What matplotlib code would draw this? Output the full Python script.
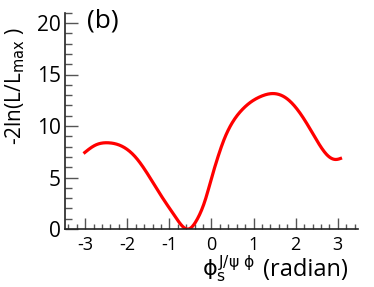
import matplotlib
matplotlib.use("Agg")
import matplotlib.pyplot as plt
from matplotlib.ticker import MultipleLocator
import numpy as np

# data
phi = [-3.04, -2.76, -2.45, -2.13, -1.81, -1.50, -1.18, -0.86, -0.54, -0.35,
       -0.15, 0.01, 0.13, 0.29, 0.49, 0.72, 0.96, 1.16, 1.46, 1.79, 2.11,
       2.43, 2.75, 2.94, 3.10]
nll = [7.33, 8.14, 8.37, 8.04, 7.0, 5.23, 3.13, 1.19, 0.0, 0.87,
       2.8, 5.07, 6.7, 8.6, 10.3, 11.55, 12.4, 12.85, 13.15, 12.66, 11.21,
       9.1, 7.17, 6.75, 6.9]
xticks = [-3, -2, -1, 0, 1, 2, 3]
yticks = [0, 5, 10, 15, 20]

plt.rcParams['font.family'] = ['Open Sans', 'DejaVu Sans']
plt.rcParams['axes.unicode_minus'] = False
plt.rcParams['mathtext.fontset'] = 'custom'
plt.rcParams['mathtext.rm'] = 'DejaVu Sans'
plt.rcParams['mathtext.it'] = 'DejaVu Sans'


def natural_spline(x, y, xq):
    x = np.asarray(x, float); y = np.asarray(y, float)
    n = len(x)
    h = np.diff(x)
    A = np.zeros((n, n)); r = np.zeros(n)
    A[0, 0] = A[-1, -1] = 1
    for i in range(1, n - 1):
        A[i, i - 1] = h[i - 1]
        A[i, i] = 2 * (h[i - 1] + h[i])
        A[i, i + 1] = h[i]
        r[i] = 3 * ((y[i + 1] - y[i]) / h[i] - (y[i] - y[i - 1]) / h[i - 1])
    c = np.linalg.solve(A, r)
    b = (y[1:] - y[:-1]) / h - h * (2 * c[:-1] + c[1:]) / 3
    d = (c[1:] - c[:-1]) / (3 * h)
    idx = np.clip(np.searchsorted(x, xq) - 1, 0, n - 2)
    dx = xq - x[idx]
    return y[idx] + b[idx] * dx + c[idx] * dx ** 2 + d[idx] * dx ** 3


fig = plt.figure(figsize=(3.74, 2.87), dpi=100)
ax = fig.add_axes([65/374, 1-229/287, (358-65)/374, (229-12.7)/287])

xs = np.linspace(phi[0], phi[-1], 500)
ax.plot(xs, natural_spline(phi, nll, xs), color='#ff0000', lw=2.3, solid_capstyle='butt')

ax.set_xlim(-3.48, 3.48)
ax.set_ylim(0, 21)
ax.set_xticks(xticks)
ax.set_yticks(yticks)
ax.xaxis.set_minor_locator(MultipleLocator(0.2))
ax.yaxis.set_minor_locator(MultipleLocator(1))
for s in ['top', 'right']:
    ax.spines[s].set_visible(False)
for s in ['left', 'bottom']:
    ax.spines[s].set_linewidth(1.2)
    ax.spines[s].set_color('#222222')
ax.tick_params(axis='y', which='major', direction='in', length=9.5, width=1, color='#555555', labelsize=15, pad=3)
ax.tick_params(axis='y', which='minor', direction='in', length=5, width=1, color='#555555')
ax.tick_params(axis='x', which='major', direction='in', length=8, width=1, color='#555555', labelsize=13, pad=5)
ax.tick_params(axis='x', which='minor', direction='in', length=3.6, width=1, color='#555555')

fig.text(87/374, 1-8/287, '(b)', fontsize=19, ha='left', va='top')
fig.text(3/374, 1-27/287, r'-2ln(L/L$_{\rm max}$ )', fontsize=15, rotation=90, ha='left', va='top')
fig.text(202/374, 1-276/287, r'$\phi_{\mathrm{s}}^{\mathrm{J/\psi\ \phi}}$', fontsize=16,
         ha='left', va='baseline')
fig.text(348/374, 1-276/287, '(radian)', fontsize=17, ha='right', va='baseline')

fig.savefig('out.png', dpi=100)
